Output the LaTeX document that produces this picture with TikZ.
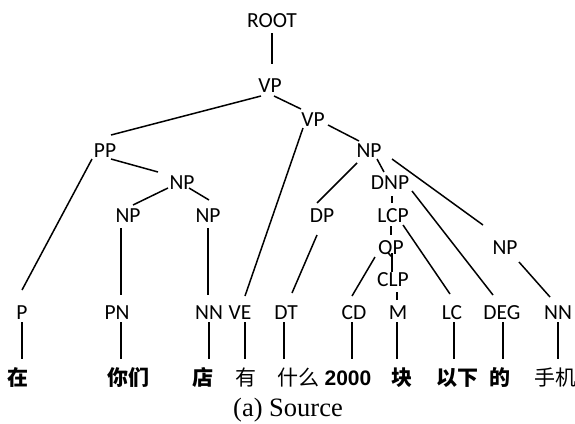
\documentclass[tikz,border=0pt]{standalone}
\usepackage{fontspec}
\setmainfont{Liberation Serif}
\newfontfamily\labfont{Carlito}
\newfontfamily\cjkfont{Noto Sans CJK SC}
\newfontfamily\numfont{Liberation Sans}
\usetikzlibrary{calc}
\newcommand\edge[4]{\draw[br] ([shift={(#2)}]#1.center) -- ([shift={(#4)}]#3.center);}
\newcommand\leafline[3]{\draw[br] ([shift={(#3,9)}]#1.center) -- ([shift={(#3,-19)}]#1.center |- #2.center);}
\begin{document}
\begin{tikzpicture}[x=1pt,y=-1pt,
  lab/.style={font=\labfont\fontsize{21.5}{21.5}\selectfont, inner sep=0pt, text height=13.8pt, text depth=0pt},
  cjkb/.style={font=\cjkfont\bfseries\fontsize{21}{21}\selectfont, inner sep=0pt, text height=17pt, text depth=1.5pt},
  cjkr/.style={font=\cjkfont\fontsize{21}{21}\selectfont, inner sep=0pt, text height=17pt, text depth=1.5pt},
  numb/.style={font=\numfont\bfseries\fontsize{21}{21}\selectfont, inner sep=0pt, text height=15pt, text depth=0pt},
  br/.style={line width=1.5pt, black}]
\useasboundingbox (0,0) rectangle (575,423);
% phrase labels
\node[lab] (root) at (272,21) {ROOT};
\node[lab] (vpa) at (270,86) {VP};
\node[lab] (vpb) at (313,120) {VP};
\node[lab] (pp) at (105,151) {PP};
\node[lab] (npa) at (182,183) {NP};
\node[lab] (npb) at (128,216) {NP};
\node[lab] (npc) at (208,216) {NP};
\node[lab] (npd) at (369,151) {NP};
\node[lab] (dnp) at (390,183) {DNP};
\node[lab] (dp) at (322,216) {DP};
\node[lab] (lcp) at (393,216) {LCP};
\node[lab] (qp) at (391,248) {QP};
\node[lab] (clp) at (393,280) {CLP};
\node[lab] (npe) at (505,248) {NP};
% preterminals
\node[lab] (tP) at (22,313) {P};
\node[lab] (tPN) at (117,313) {PN};
\node[lab] (tNNa) at (209,313) {NN};
\node[lab] (tVE) at (240,313) {VE};
\node[lab] (tDT) at (286,313) {DT};
\node[lab] (tCD) at (354,313) {CD};
\node[lab] (tM) at (398,313) {M};
\node[lab] (tLC) at (452,313) {LC};
\node[lab] (tDEG) at (502,313) {DEG};
\node[lab] (tNNb) at (558,313) {NN};
% words
\node[cjkb] (w1) at (18,378) {在};
\node[cjkb] (w2) at (128,378) {你们};
\node[cjkb] (w3) at (203,378) {店};
\node[cjkr] (w4) at (246,378) {有};
\node[cjkr] (w5) at (298,378) {什么};
\node[numb] (w6) at (348,378) {2000};
\node[cjkb] (w7) at (402,378) {块};
\node[cjkb] (w8) at (457,378) {以下};
\node[cjkb] (w9) at (500,378) {的};
\node[cjkr] (w10) at (555,378) {手机};
% caption
\node[font=\fontsize{26.5}{26.5}\selectfont, inner sep=0pt, anchor=base] (cap) at (288,416) {(a) Source};
% edges
\edge{root}{0,12}{vpa}{2,-22}
\edge{vpa}{-9,10}{pp}{6,-16}
\edge{vpa}{4,10}{vpb}{-12,-11}
\edge{vpb}{-10,8}{tVE}{5,-17}
\edge{vpb}{15,5}{npd}{-10,-10}
\edge{pp}{-13,8}{tP}{0,-23}
\edge{pp}{6,8}{npa}{-24,-11}
\edge{npa}{-14,5}{npb}{5,-11}
\edge{npa}{7,5}{npc}{1,-16}
\edge{npb}{-7,12}{tPN}{4,-18}
\edge{npc}{0,12}{tNNa}{-1,-18}
\edge{npd}{-12,12}{dp}{-5,-13}
\edge{npd}{8,8}{dnp}{-6,-11}
\edge{npd}{23,8}{npe}{-22,-23}
\edge{dnp}{2,13}{lcp}{-1,-13}
\edge{dnp}{22,8}{tDEG}{-9,-18}
\edge{lcp}{-2,10}{qp}{0,-13}
\edge{lcp}{10,9}{tLC}{-2,-19}
\edge{qp}{-16,9}{tCD}{-2,-17}
\edge{qp}{1,5}{clp}{-1,-8}
\edge{clp}{4,12}{tM}{-1,-13}
\edge{dp}{-5,19}{tDT}{6,-20}
\edge{npe}{14,14}{tNNb}{-8,-16}
% preterminal to word
\leafline{tP}{w1}{0}
\leafline{tPN}{w2}{4}
\leafline{tNNa}{w3}{0}
\leafline{tVE}{w4}{5}
\leafline{tDT}{w5}{-2}
\leafline{tCD}{w6}{-2}
\leafline{tM}{w7}{-1}
\leafline{tLC}{w8}{2}
\leafline{tDEG}{w9}{1}
\leafline{tNNb}{w10}{0}
\end{tikzpicture}
\end{document}
